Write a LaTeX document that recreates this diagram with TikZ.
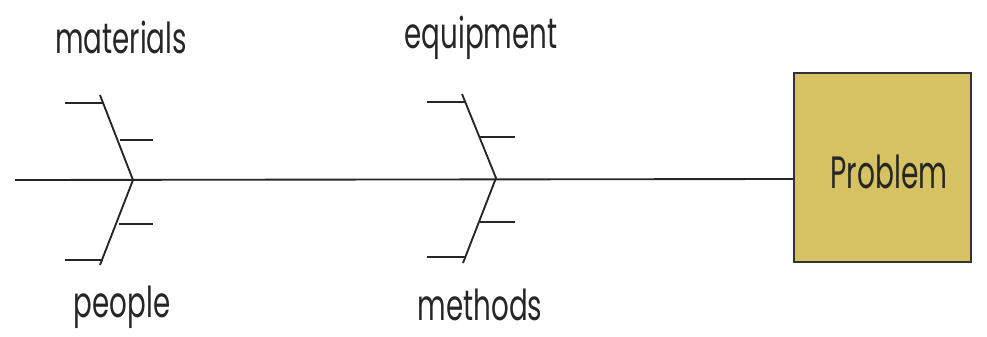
\documentclass[tikz,border=0pt]{standalone}
\usepackage{fontspec}
\setmainfont{Poppins}
\newfontfamily\labfont{Poppins}[FakeStretch=0.65]
\newfontfamily\probfont{Poppins}[FakeStretch=0.62]
\definecolor{boxfill}{RGB}{214,194,98}
\begin{document}
\begin{tikzpicture}[x=0.75pt,y=-0.75pt,
  bone/.style={draw=black!85,line width=1.4pt},
  lbl/.style={font=\labfont\fontsize{32}{34}\selectfont,text=black!85,inner sep=0pt,anchor=base},
  probbox/.style={draw=black!80,line width=1.5pt,fill=boxfill,minimum width=177*0.75pt,minimum height=189*0.75pt,inner sep=0pt},
  probtext/.style={font=\probfont\fontsize{34}{36}\selectfont,text=black!85,inner sep=0pt,anchor=base}]
\useasboundingbox (0,0) rectangle (987,336);
\node[probbox] (prob) at (882.5,167.5) {};
\node[probtext] (probt) at (889,188) {Problem};
\coordinate (tail) at (15,180);
% left bone
\coordinate (j1) at (133,180);
\coordinate (t1) at (100,95);
\coordinate (b1) at (100,265);
\coordinate (r1a) at (104,103); \coordinate (r1b) at (65,103);
\coordinate (r2a) at (120,140); \coordinate (r2b) at (153,140);
\coordinate (r3a) at (119,224); \coordinate (r3b) at (153,224);
\coordinate (r4a) at (103,260); \coordinate (r4b) at (65,260);
% right bone
\coordinate (j2) at (496,178);
\coordinate (t2) at (462,94);
\coordinate (b2) at (463,263);
\coordinate (s1a) at (465,102); \coordinate (s1b) at (427,102);
\coordinate (s2a) at (479,137); \coordinate (s2b) at (515,137);
\coordinate (s3a) at (480,222); \coordinate (s3b) at (515,222);
\coordinate (s4a) at (465,257); \coordinate (s4b) at (427,257);
\draw[bone] (tail) -- (prob.west |- 0,179);
\draw[bone] (t1) -- (j1) -- (b1);
\draw[bone] (r1a) -- (r1b);
\draw[bone] (r2a) -- (r2b);
\draw[bone] (r3a) -- (r3b);
\draw[bone] (r4a) -- (r4b);
\draw[bone] (t2) -- (j2) -- (b2);
\draw[bone] (s1a) -- (s1b);
\draw[bone] (s2a) -- (s2b);
\draw[bone] (s3a) -- (s3b);
\draw[bone] (s4a) -- (s4b);
\node[lbl] (materials) at (121,53) {materials};
\node[lbl] (equipment) at (481,48) {equipment};
\node[lbl] (people) at (122,317) {people};
\node[lbl] (methods) at (480,320) {methods};
\end{tikzpicture}
\end{document}
